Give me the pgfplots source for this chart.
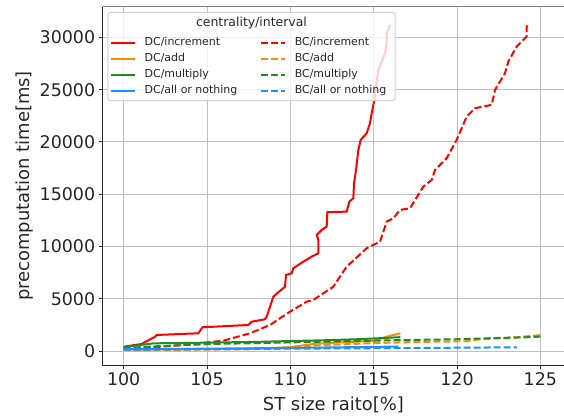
\documentclass[border=0pt]{standalone}
\usepackage{pgfplots}
\pgfplotsset{compat=1.18}
\usepackage{fontspec}
\setmainfont{DejaVu Sans}

\definecolor{lred}{RGB}{255,0,0}
\definecolor{lorange}{RGB}{255,140,0}
\definecolor{lgreen}{RGB}{34,139,34}
\definecolor{lblue}{RGB}{30,144,255}
\definecolor{gridgray}{RGB}{192,192,192}
\definecolor{legedge}{RGB}{210,210,210}
\definecolor{txt}{RGB}{38,38,38}
\definecolor{topspine}{RGB}{128,128,128}

\begin{document}
\begin{tikzpicture}
\begin{axis}[
  scale only axis, width=461.3bp, height=358.6bp,
  xmin=98.74, xmax=126.42, ymin=-1340, ymax=32930,
  xtick={100,105,...,125}, ytick={0,5000,...,30000},
  scaled y ticks=false, scaled x ticks=false,
  grid=major, major grid style={gridgray, line width=1bp},
  axis line style={draw=none},
  tick pos=left, tick align=outside, major tick length=4bp,
  tick style={txt, line width=1bp},
  ticklabel style={font=\fontsize{17.5}{20}\selectfont, text=txt},
  /pgf/number format/assume math mode=true,
  /pgf/number format/1000 sep={},
  label style={font=\fontsize{18}{21}\selectfont, text=txt},
  xlabel style={yshift=-4bp},
  xlabel={ST size raito[\%]},
  ylabel={precomputation time[ms]},
  legend columns=2,
  legend cell align=left,
  legend style={at={(0,1)}, anchor=north west, xshift=5.3bp, yshift=-25.6bp,
    fill=none, draw=none,
    font=\fontsize{11}{13}\selectfont, text=txt, inner sep=2bp,
    nodes={text height=8.5bp, text depth=3bp, inner ysep=2.3bp, inner xsep=0bp},
    /tikz/every odd column/.append style={column sep=8.5bp},
    /tikz/every even column/.append style={column sep=23bp}},
  legend image code/.code={\draw[#1, line width=2bp] (0bp,0bp) -- (24bp,0bp);},
]
\coordinate (bl) at (rel axis cs:0,0);
\coordinate (tl) at (rel axis cs:0,1);
\coordinate (tr) at (rel axis cs:1,1);
\coordinate (br) at (rel axis cs:1,0);

\addplot[lred, solid, line width=2bp] coordinates {
 (100,440)(101.08,698)(101.88,1396)(101.98,1558)(104.48,1720)(104.72,2294)
 (107.48,2514)(107.68,2830)(108.48,3059)(108.58,3308)(108.98,5220)(109.68,6176)
 (109.74,7294)(110.08,7457)(110.18,7935)(110.78,8566)(111.28,9044)(111.68,9369)
 (111.68,10640)(111.58,11118)(111.88,11596)(112.18,11912)(112.22,13288)
 (113.38,13346)(113.54,14302)(113.78,14627)(113.82,16061)(113.94,17332)
 (114.08,19244)(114.22,20200)(114.58,20841)(114.78,21797)(114.88,22753)
 (115.02,23862)(115.14,25296)(115.28,26880)(115.68,28489)(115.78,29445)
 (115.78,30401)(115.98,31194)};
\addlegendentry{DC/increment}
\addplot[lred, dash pattern=on 7bp off 3bp, line width=2bp] coordinates {
 (100,190)(101.5,350)(103.58,602)(105.98,1013)(107.58,1720)(108.78,2514)
 (109.38,3155)(109.98,3787)(110.98,4742)(111.38,4904)(112.58,6176)(113.38,8088)
 (114.58,9847)(115.38,10478)(115.78,12390)(116.18,12715)(116.58,13508)
 (117.18,13671)(117.98,15736)(118.48,16376)(118.68,17332)(119.38,18451)
 (119.98,20200)(120.58,22428)(121.08,23231)(122.08,23547)(122.28,24980)
 (122.88,26576)(123.08,27690)(123.58,29126)(124.18,30082)(124.18,31035)
 (124.38,31194)};
\addlegendentry{BC/increment}

\addplot[lorange, solid, line width=2bp] coordinates {
 (100,150)(104,200)(108,250)(110,400)(111.4,700)(113,850)(115,1000)
 (115.8,1400)(116.6,1720)};
\addlegendentry{DC/add}
\addplot[lorange, dash pattern=on 7bp off 3bp, line width=2bp] coordinates {
 (100,100)(104,150)(108,200)(110,300)(111.5,550)(113,650)(115,780)
 (116.6,850)(118,900)(120.5,950)(121.4,1150)(123.6,1340)(125.1,1560)};
\addlegendentry{BC/add}

\addplot[lgreen, solid, line width=2bp] coordinates {
 (100,400)(101,600)(101.8,760)(104,800)(106,850)(108,900)(110,980)
 (112,1050)(114,1150)(116,1300)(116.6,1350)};
\addlegendentry{DC/multiply}
\addplot[lgreen, dash pattern=on 7bp off 3bp, line width=2bp] coordinates {
 (100,300)(102,480)(104,620)(106,720)(108,780)(110,850)(112,920)(114,980)
 (116,1050)(118,1100)(120,1150)(122,1250)(124,1330)(125,1400)};
\addlegendentry{BC/multiply}

\addplot[lblue, solid, line width=2bp] coordinates {
 (100,200)(105,250)(110,320)(115,420)(116.5,450)};
\addlegendentry{DC/all or nothing}
\addplot[lblue, dash pattern=on 7bp off 3bp, line width=2bp] coordinates {
 (100,150)(105,200)(110,250)(115,290)(120,340)(123.6,380)};
\addlegendentry{BC/all or nothing}

% translucent legend panel, drawn above the curves and below the legend
\path[fill=white, fill opacity=0.8, draw=legedge, line width=1bp, rounded corners=2.5bp]
  ([shift={(5.3bp,-5.6bp)}]rel axis cs:0,1) rectangle ([shift={(292.3bp,-94bp)}]rel axis cs:0,1);
\end{axis}

\draw[txt, line width=1.2bp] (tl) -- (bl) -- (br);
\draw[topspine, line width=1.2bp] (tl) -- (tr);
\node[font=\fontsize{12.5}{15}\selectfont, text=txt] at ([shift={(148.8bp,-15.9bp)}]tl) {centrality/interval};

\pgfresetboundingbox
\path ([shift={(-102.7bp,-53.7bp)}]bl) rectangle ([shift={(0bp,6.7bp)}]tr);
\end{tikzpicture}
\end{document}
